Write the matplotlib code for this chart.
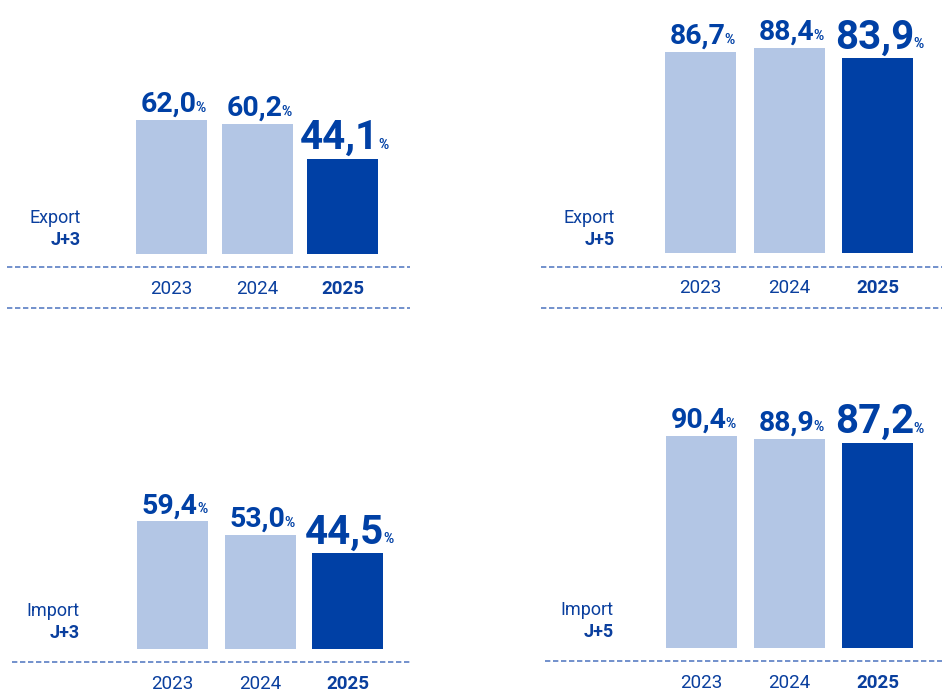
import matplotlib
matplotlib.use('Agg')
import matplotlib.pyplot as plt
from matplotlib.lines import Line2D

plt.rcParams['font.family'] = ['Roboto', 'DejaVu Sans']

years = ['2023', '2024', '2025']
export_j3 = [62.0, 60.2, 44.1]
export_j5 = [86.7, 88.4, 83.9]
import_j3 = [59.4, 53.0, 44.5]
import_j5 = [90.4, 88.9, 87.2]
panel_titles = [('Export', 'J+3'), ('Export', 'J+5'), ('Import', 'J+3'), ('Import', 'J+5')]

LIGHT = '#b3c6e5'
DARK = '#0040a5'
TXT = '#0a3f9e'
DASH = '#5a7ec4'

W, H = 942, 700
fig = plt.figure(figsize=(W / 100, H / 100), dpi=100)

# panel layout in pixels: first bar centre, step, bar bottom, px per unit,
# title x/y, dashed lines (y list, x0, x1)
panels = [
    dict(vals=export_j3, cx=171.5, step=85.5, base=254, ppu=2.16, tx=81, ty=218,
         lines=[267, 308], lx=(7, 410)),
    dict(vals=export_j5, cx=700.5, step=88.5, base=253, ppu=2.32, tx=615, ty=218,
         lines=[267, 308], lx=(541, 942)),
    dict(vals=import_j3, cx=172.5, step=87.5, base=649, ppu=2.15, tx=80, ty=611,
         lines=[662], lx=(12, 410)),
    dict(vals=import_j5, cx=701.5, step=88.0, base=648, ppu=2.35, tx=614, ty=610,
         lines=[661], lx=(545, 942)),
]

bar_px = 71
axes = []
for p, (t1, t2) in zip(panels, panel_titles):
    left = p['cx'] - p['step'] / 2
    width = 3 * p['step']
    top_px = 230
    ax = fig.add_axes([left / W, 1 - p['base'] / H, width / W, top_px / H])
    ax.set_xlim(-0.5, 2.5)
    ax.set_ylim(0, top_px / p['ppu'])
    ax.bar(range(3), p['vals'], width=bar_px / p['step'],
           color=[LIGHT, LIGHT, DARK], zorder=2)
    ax.set_xticks(range(3))
    ax.set_xticklabels(years, fontsize=13.5, color=TXT)
    ax.get_xticklabels()[2].set_fontweight('bold')
    ax.tick_params(axis='x', length=0, pad=19)
    ax.set_yticks([])
    for s in ax.spines.values():
        s.set_visible(False)
    ax.patch.set_alpha(0)

    fig.text(p['tx'] / W, 1 - p['ty'] / H, t1, ha='right', va='center',
             fontsize=13, color=TXT)
    fig.text(p['tx'] / W, 1 - (p['ty'] + 22) / H, t2, ha='right', va='center',
             fontsize=13, color=TXT, fontweight='bold')

    for ly in p['lines']:
        fig.add_artist(Line2D([p['lx'][0] / W, p['lx'][1] / W], [1 - ly / H, 1 - ly / H],
                              color=DASH, lw=1.2, linestyle=(0, (3.2, 1.6))))
    axes.append((ax, p))

# value labels: number + small %, centred over the bar
fig.canvas.draw()
renderer = fig.canvas.get_renderer()
for ax, p in axes:
    for i, v in enumerate(p['vals']):
        big = i == 2
        s = f'{v:.1f}'.replace('.', ',')
        off = 10 if big else 8
        num = ax.annotate(s, xy=(i, v), xytext=(0, off), textcoords='offset pixels',
                          ha='left', va='baseline', fontsize=29 if big else 20.5,
                          fontweight='bold', color=DARK)
        pct = ax.annotate('%', xy=(i, v), xytext=(0, off), textcoords='offset pixels',
                          ha='left', va='baseline', fontsize=10,
                          fontweight='bold', color=DARK)
        wn = num.get_window_extent(renderer).width
        wp = pct.get_window_extent(renderer).width
        gap = -1
        total = wn + gap + wp
        start = -total / 2 + 2
        num.set_position((start, off))
        pct.set_position((start + wn + gap, off))

fig.savefig('out.png', dpi=100)
